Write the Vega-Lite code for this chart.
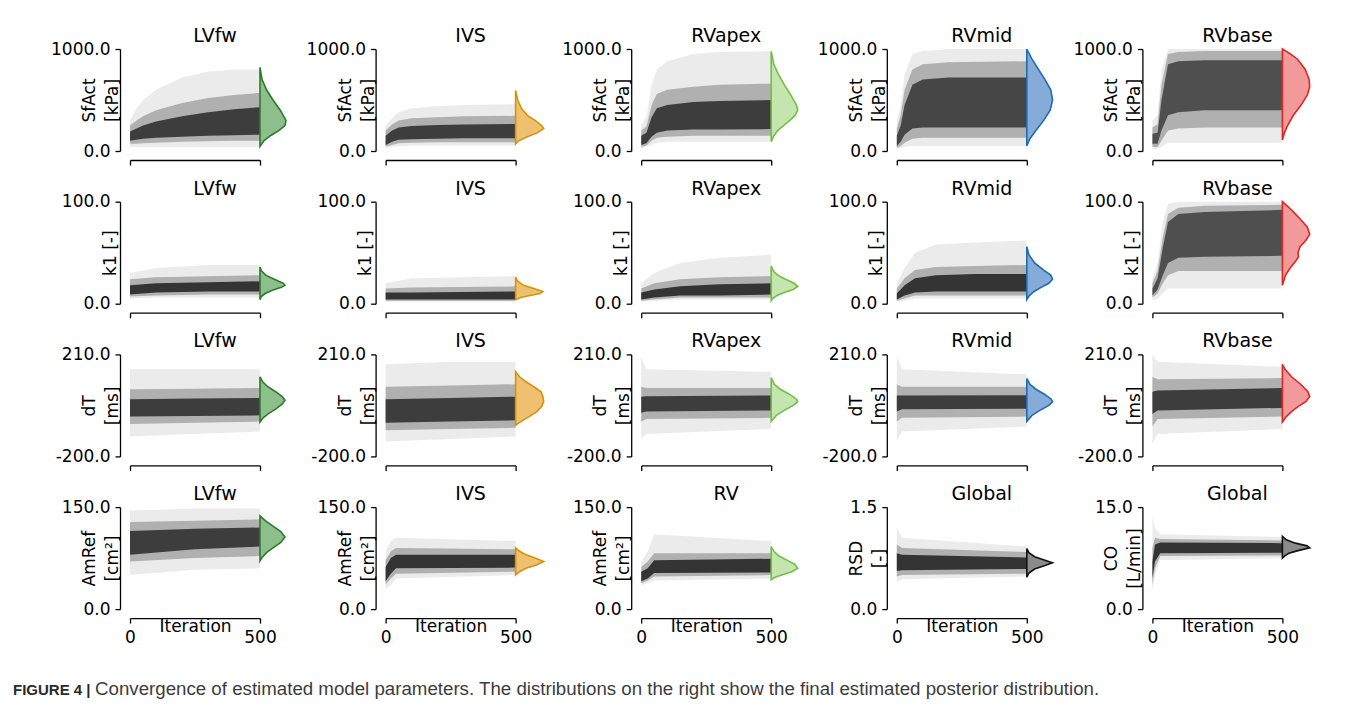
{
"$schema": "https://vega.github.io/schema/vega-lite/v6.json",
"padding": {"left": 13, "top": 27, "right": 5, "bottom": 5},
"background": "white",
"datasets": {
"band": [
{"p":1,"i":0,"lo":40,"c":70,"a":100,"b":190,"d":250,"hi":300},
{"p":1,"i":25,"lo":40,"c":70,"a":110,"b":220,"d":300,"hi":420},
{"p":1,"i":50,"lo":40,"c":75,"a":120,"b":250,"d":340,"hi":500},
{"p":1,"i":100,"lo":40,"c":80,"a":130,"b":290,"d":400,"hi":600},
{"p":1,"i":200,"lo":40,"c":90,"a":140,"b":340,"d":470,"hi":720},
{"p":1,"i":300,"lo":40,"c":95,"a":150,"b":380,"d":520,"hi":780},
{"p":1,"i":400,"lo":40,"c":100,"a":155,"b":410,"d":550,"hi":800},
{"p":1,"i":500,"lo":40,"c":100,"a":160,"b":430,"d":570,"hi":800},
{"p":2,"i":0,"lo":30,"c":45,"a":60,"b":150,"d":200,"hi":250},
{"p":2,"i":25,"lo":40,"c":60,"a":90,"b":200,"d":260,"hi":320},
{"p":2,"i":50,"lo":50,"c":75,"a":110,"b":230,"d":300,"hi":380},
{"p":2,"i":100,"lo":55,"c":80,"a":115,"b":245,"d":320,"hi":420},
{"p":2,"i":200,"lo":55,"c":85,"a":120,"b":255,"d":330,"hi":440},
{"p":2,"i":300,"lo":55,"c":85,"a":125,"b":260,"d":340,"hi":450},
{"p":2,"i":500,"lo":55,"c":85,"a":125,"b":265,"d":345,"hi":460},
{"p":3,"i":0,"lo":30,"c":40,"a":60,"b":150,"d":200,"hi":260},
{"p":3,"i":20,"lo":40,"c":55,"a":75,"b":180,"d":240,"hi":330},
{"p":3,"i":40,"lo":60,"c":100,"a":140,"b":330,"d":450,"hi":650},
{"p":3,"i":60,"lo":80,"c":130,"a":180,"b":420,"d":560,"hi":800},
{"p":3,"i":100,"lo":90,"c":140,"a":200,"b":450,"d":600,"hi":880},
{"p":3,"i":200,"lo":90,"c":150,"a":210,"b":480,"d":630,"hi":950},
{"p":3,"i":300,"lo":90,"c":150,"a":210,"b":490,"d":650,"hi":970},
{"p":3,"i":500,"lo":90,"c":150,"a":215,"b":500,"d":660,"hi":980},
{"p":4,"i":0,"lo":20,"c":30,"a":50,"b":150,"d":220,"hi":300},
{"p":4,"i":15,"lo":30,"c":50,"a":90,"b":250,"d":350,"hi":450},
{"p":4,"i":30,"lo":40,"c":80,"a":160,"b":450,"d":600,"hi":750},
{"p":4,"i":60,"lo":50,"c":120,"a":220,"b":650,"d":800,"hi":950},
{"p":4,"i":100,"lo":50,"c":130,"a":230,"b":700,"d":850,"hi":980},
{"p":4,"i":200,"lo":50,"c":130,"a":230,"b":720,"d":870,"hi":1000},
{"p":4,"i":500,"lo":50,"c":130,"a":230,"b":720,"d":880,"hi":1000},
{"p":5,"i":0,"lo":20,"c":40,"a":70,"b":170,"d":230,"hi":300},
{"p":5,"i":20,"lo":20,"c":40,"a":70,"b":180,"d":260,"hi":350},
{"p":5,"i":35,"lo":40,"c":100,"a":200,"b":500,"d":650,"hi":800},
{"p":5,"i":60,"lo":80,"c":200,"a":350,"b":850,"d":950,"hi":1000},
{"p":5,"i":100,"lo":80,"c":220,"a":380,"b":880,"d":970,"hi":1000},
{"p":5,"i":200,"lo":80,"c":230,"a":400,"b":890,"d":980,"hi":1000},
{"p":5,"i":500,"lo":80,"c":230,"a":400,"b":890,"d":980,"hi":1000},
{"p":6,"i":0,"lo":5,"c":7,"a":9,"b":18,"d":24,"hi":30},
{"p":6,"i":100,"lo":6,"c":8,"a":11,"b":20,"d":26,"hi":35},
{"p":6,"i":300,"lo":6,"c":9,"a":12,"b":21,"d":27,"hi":38},
{"p":6,"i":500,"lo":6,"c":9,"a":12,"b":22,"d":28,"hi":38},
{"p":7,"i":0,"lo":2,"c":3,"a":4,"b":11,"d":15,"hi":20},
{"p":7,"i":100,"lo":2,"c":3,"a":4,"b":11,"d":16,"hi":25},
{"p":7,"i":500,"lo":2,"c":3,"a":4,"b":12,"d":17,"hi":27},
{"p":8,"i":0,"lo":2,"c":3,"a":4,"b":11,"d":15,"hi":20},
{"p":8,"i":50,"lo":3,"c":4,"a":6,"b":14,"d":20,"hi":30},
{"p":8,"i":150,"lo":4,"c":6,"a":8,"b":17,"d":24,"hi":40},
{"p":8,"i":300,"lo":4,"c":6,"a":8,"b":19,"d":26,"hi":45},
{"p":8,"i":500,"lo":4,"c":6,"a":9,"b":20,"d":27,"hi":48},
{"p":9,"i":0,"lo":2,"c":3,"a":4,"b":10,"d":15,"hi":20},
{"p":9,"i":30,"lo":3,"c":5,"a":8,"b":18,"d":25,"hi":35},
{"p":9,"i":70,"lo":5,"c":8,"a":11,"b":25,"d":33,"hi":50},
{"p":9,"i":150,"lo":5,"c":8,"a":12,"b":28,"d":36,"hi":58},
{"p":9,"i":300,"lo":5,"c":8,"a":12,"b":29,"d":37,"hi":60},
{"p":9,"i":500,"lo":5,"c":8,"a":12,"b":29,"d":38,"hi":62},
{"p":10,"i":0,"lo":3,"c":6,"a":8,"b":15,"d":20,"hi":25},
{"p":10,"i":20,"lo":5,"c":10,"a":14,"b":25,"d":32,"hi":40},
{"p":10,"i":40,"lo":10,"c":20,"a":28,"b":55,"d":65,"hi":80},
{"p":10,"i":60,"lo":15,"c":28,"a":40,"b":80,"d":88,"hi":98},
{"p":10,"i":100,"lo":15,"c":32,"a":45,"b":88,"d":94,"hi":100},
{"p":10,"i":200,"lo":15,"c":32,"a":46,"b":90,"d":96,"hi":100},
{"p":10,"i":500,"lo":15,"c":32,"a":47,"b":92,"d":97,"hi":100},
{"p":11,"i":0,"lo":-120,"c":-70,"a":-40,"b":30,"d":70,"hi":150},
{"p":11,"i":250,"lo":-110,"c":-65,"a":-38,"b":33,"d":72,"hi":150},
{"p":11,"i":500,"lo":-100,"c":-60,"a":-35,"b":35,"d":75,"hi":150},
{"p":12,"i":0,"lo":-140,"c":-95,"a":-65,"b":30,"d":80,"hi":170},
{"p":12,"i":250,"lo":-130,"c":-90,"a":-60,"b":35,"d":85,"hi":180},
{"p":12,"i":500,"lo":-120,"c":-85,"a":-55,"b":40,"d":90,"hi":180},
{"p":13,"i":0,"lo":-130,"c":-60,"a":-25,"b":40,"d":80,"hi":200},
{"p":13,"i":20,"lo":-110,"c":-50,"a":-20,"b":42,"d":75,"hi":150},
{"p":13,"i":500,"lo":-90,"c":-45,"a":-15,"b":45,"d":75,"hi":140},
{"p":14,"i":0,"lo":-140,"c":-60,"a":-20,"b":45,"d":90,"hi":205},
{"p":14,"i":20,"lo":-100,"c":-45,"a":-10,"b":45,"d":80,"hi":150},
{"p":14,"i":500,"lo":-80,"c":-40,"a":-8,"b":46,"d":80,"hi":130},
{"p":15,"i":0,"lo":-150,"c":-80,"a":-30,"b":60,"d":120,"hi":210},
{"p":15,"i":20,"lo":-110,"c":-50,"a":-15,"b":65,"d":110,"hi":180},
{"p":15,"i":500,"lo":-90,"c":-40,"a":-5,"b":75,"d":115,"hi":160},
{"p":16,"i":0,"lo":50,"c":70,"a":80,"b":115,"d":128,"hi":145},
{"p":16,"i":250,"lo":58,"c":75,"a":88,"b":118,"d":130,"hi":148},
{"p":16,"i":500,"lo":60,"c":78,"a":92,"b":120,"d":132,"hi":148},
{"p":17,"i":0,"lo":30,"c":36,"a":41,"b":62,"d":72,"hi":85},
{"p":17,"i":20,"lo":35,"c":45,"a":52,"b":75,"d":85,"hi":100},
{"p":17,"i":40,"lo":45,"c":52,"a":60,"b":80,"d":90,"hi":105},
{"p":17,"i":500,"lo":50,"c":55,"a":61,"b":80,"d":88,"hi":100},
{"p":18,"i":0,"lo":35,"c":38,"a":41,"b":55,"d":62,"hi":70},
{"p":18,"i":25,"lo":38,"c":42,"a":45,"b":60,"d":70,"hi":85},
{"p":18,"i":50,"lo":42,"c":48,"a":53,"b":72,"d":82,"hi":110},
{"p":18,"i":500,"lo":45,"c":50,"a":54,"b":74,"d":82,"hi":100},
{"p":19,"i":0,"lo":0.40,"c":0.48,"a":0.56,"b":0.82,"d":0.95,"hi":1.20},
{"p":19,"i":20,"lo":0.44,"c":0.50,"a":0.57,"b":0.80,"d":0.90,"hi":1.05},
{"p":19,"i":500,"lo":0.48,"c":0.52,"a":0.59,"b":0.76,"d":0.84,"hi":0.92},
{"p":20,"i":0,"lo":2.5,"c":3.5,"a":4.5,"b":7,"d":9,"hi":13.5},
{"p":20,"i":10,"lo":5,"c":6,"a":7,"b":9.5,"d":10.5,"hi":12},
{"p":20,"i":30,"lo":7.2,"c":7.8,"a":8.2,"b":9.8,"d":10.3,"hi":11},
{"p":20,"i":500,"lo":7.5,"c":7.9,"a":8.3,"b":9.7,"d":10.1,"hi":10.6}
],
"vio": [
{"p":1,"v":820,"xv":500},{"p":1,"v":700,"xv":508},{"p":1,"v":600,"xv":525},{"p":1,"v":500,"xv":550},{"p":1,"v":400,"xv":578},{"p":1,"v":300,"xv":600},{"p":1,"v":250,"xv":596},{"p":1,"v":200,"xv":572},{"p":1,"v":150,"xv":540},{"p":1,"v":100,"xv":515},{"p":1,"v":45,"xv":500},
{"p":2,"v":594,"xv":500},{"p":2,"v":500,"xv":508},{"p":2,"v":420,"xv":522},{"p":2,"v":350,"xv":545},{"p":2,"v":300,"xv":575},{"p":2,"v":250,"xv":600},{"p":2,"v":220,"xv":608},{"p":2,"v":180,"xv":585},{"p":2,"v":140,"xv":545},{"p":2,"v":100,"xv":512},{"p":2,"v":69,"xv":500},
{"p":3,"v":977,"xv":500},{"p":3,"v":850,"xv":510},{"p":3,"v":750,"xv":528},{"p":3,"v":650,"xv":550},{"p":3,"v":550,"xv":575},{"p":3,"v":450,"xv":597},{"p":3,"v":400,"xv":602},{"p":3,"v":350,"xv":592},{"p":3,"v":300,"xv":572},{"p":3,"v":250,"xv":548},{"p":3,"v":200,"xv":525},{"p":3,"v":150,"xv":510},{"p":3,"v":92,"xv":500},
{"p":4,"v":1000,"xv":500},{"p":4,"v":900,"xv":520},{"p":4,"v":800,"xv":545},{"p":4,"v":700,"xv":570},{"p":4,"v":600,"xv":592},{"p":4,"v":500,"xv":599},{"p":4,"v":400,"xv":590},{"p":4,"v":300,"xv":565},{"p":4,"v":200,"xv":535},{"p":4,"v":120,"xv":512},{"p":4,"v":49,"xv":500},
{"p":5,"v":1000,"xv":500},{"p":5,"v":950,"xv":532},{"p":5,"v":900,"xv":558},{"p":5,"v":800,"xv":588},{"p":5,"v":700,"xv":603},{"p":5,"v":630,"xv":605},{"p":5,"v":550,"xv":596},{"p":5,"v":450,"xv":572},{"p":5,"v":350,"xv":542},{"p":5,"v":250,"xv":520},{"p":5,"v":180,"xv":508},{"p":5,"v":108,"xv":500},
{"p":6,"v":36,"xv":500},{"p":6,"v":32,"xv":506},{"p":6,"v":28,"xv":522},{"p":6,"v":24,"xv":555},{"p":6,"v":20,"xv":590},{"p":6,"v":18,"xv":596},{"p":6,"v":16,"xv":582},{"p":6,"v":13,"xv":545},{"p":6,"v":10,"xv":520},{"p":6,"v":7,"xv":505},{"p":6,"v":4,"xv":500},
{"p":7,"v":26,"xv":500},{"p":7,"v":22,"xv":508},{"p":7,"v":18,"xv":530},{"p":7,"v":15,"xv":570},{"p":7,"v":12,"xv":605},{"p":7,"v":10,"xv":595},{"p":7,"v":8,"xv":555},{"p":7,"v":6,"xv":520},{"p":7,"v":4,"xv":500},
{"p":8,"v":37,"xv":500},{"p":8,"v":32,"xv":508},{"p":8,"v":28,"xv":525},{"p":8,"v":24,"xv":555},{"p":8,"v":20,"xv":588},{"p":8,"v":17,"xv":602},{"p":8,"v":14,"xv":585},{"p":8,"v":11,"xv":550},{"p":8,"v":8,"xv":522},{"p":8,"v":5,"xv":505},{"p":8,"v":3,"xv":500},
{"p":9,"v":56,"xv":500},{"p":9,"v":48,"xv":508},{"p":9,"v":40,"xv":530},{"p":9,"v":33,"xv":565},{"p":9,"v":28,"xv":592},{"p":9,"v":24,"xv":599},{"p":9,"v":20,"xv":585},{"p":9,"v":16,"xv":555},{"p":9,"v":12,"xv":528},{"p":9,"v":8,"xv":510},{"p":9,"v":4,"xv":500},
{"p":10,"v":100,"xv":500},{"p":10,"v":95,"xv":522},{"p":10,"v":90,"xv":542},{"p":10,"v":82,"xv":572},{"p":10,"v":75,"xv":596},{"p":10,"v":68,"xv":605},{"p":10,"v":62,"xv":590},{"p":10,"v":56,"xv":568},{"p":10,"v":50,"xv":560},{"p":10,"v":46,"xv":562},{"p":10,"v":42,"xv":552},{"p":10,"v":35,"xv":530},{"p":10,"v":28,"xv":512},{"p":10,"v":18,"xv":500},
{"p":11,"v":120,"xv":500},{"p":11,"v":100,"xv":510},{"p":11,"v":80,"xv":530},{"p":11,"v":60,"xv":560},{"p":11,"v":40,"xv":586},{"p":11,"v":26,"xv":596},{"p":11,"v":10,"xv":585},{"p":11,"v":-10,"xv":560},{"p":11,"v":-30,"xv":530},{"p":11,"v":-45,"xv":512},{"p":11,"v":-62,"xv":500},
{"p":12,"v":140,"xv":500},{"p":12,"v":120,"xv":515},{"p":12,"v":100,"xv":540},{"p":12,"v":80,"xv":570},{"p":12,"v":60,"xv":598},{"p":12,"v":40,"xv":605},{"p":12,"v":20,"xv":608},{"p":12,"v":0,"xv":600},{"p":12,"v":-20,"xv":582},{"p":12,"v":-40,"xv":552},{"p":12,"v":-60,"xv":520},{"p":12,"v":-75,"xv":500},
{"p":13,"v":116,"xv":500},{"p":13,"v":90,"xv":512},{"p":13,"v":70,"xv":535},{"p":13,"v":50,"xv":570},{"p":13,"v":30,"xv":598},{"p":13,"v":20,"xv":602},{"p":13,"v":5,"xv":585},{"p":13,"v":-15,"xv":550},{"p":13,"v":-35,"xv":520},{"p":13,"v":-59,"xv":500},
{"p":14,"v":113,"xv":500},{"p":14,"v":90,"xv":512},{"p":14,"v":70,"xv":535},{"p":14,"v":50,"xv":568},{"p":14,"v":30,"xv":594},{"p":14,"v":19,"xv":599},{"p":14,"v":5,"xv":585},{"p":14,"v":-15,"xv":550},{"p":14,"v":-35,"xv":520},{"p":14,"v":-59,"xv":500},
{"p":15,"v":170,"xv":500},{"p":15,"v":150,"xv":510},{"p":15,"v":120,"xv":535},{"p":15,"v":90,"xv":570},{"p":15,"v":60,"xv":598},{"p":15,"v":40,"xv":605},{"p":15,"v":20,"xv":590},{"p":15,"v":0,"xv":560},{"p":15,"v":-20,"xv":535},{"p":15,"v":-40,"xv":515},{"p":15,"v":-62,"xv":500},
{"p":16,"v":137,"xv":500},{"p":16,"v":130,"xv":520},{"p":16,"v":122,"xv":550},{"p":16,"v":114,"xv":580},{"p":16,"v":106,"xv":596},{"p":16,"v":98,"xv":580},{"p":16,"v":90,"xv":550},{"p":16,"v":83,"xv":525},{"p":16,"v":76,"xv":508},{"p":16,"v":71,"xv":500},
{"p":17,"v":90,"xv":500},{"p":17,"v":85,"xv":515},{"p":17,"v":80,"xv":540},{"p":17,"v":75,"xv":575},{"p":17,"v":70,"xv":608},{"p":17,"v":65,"xv":580},{"p":17,"v":60,"xv":540},{"p":17,"v":55,"xv":515},{"p":17,"v":50,"xv":500},
{"p":18,"v":92,"xv":500},{"p":18,"v":85,"xv":510},{"p":18,"v":78,"xv":530},{"p":18,"v":72,"xv":560},{"p":18,"v":66,"xv":590},{"p":18,"v":60,"xv":602},{"p":18,"v":55,"xv":580},{"p":18,"v":50,"xv":540},{"p":18,"v":46,"xv":510},{"p":18,"v":43,"xv":500},
{"p":19,"v":0.89,"xv":500},{"p":19,"v":0.83,"xv":508},{"p":19,"v":0.77,"xv":530},{"p":19,"v":0.72,"xv":570},{"p":19,"v":0.68,"xv":599},{"p":19,"v":0.64,"xv":570},{"p":19,"v":0.59,"xv":530},{"p":19,"v":0.53,"xv":508},{"p":19,"v":0.47,"xv":500},
{"p":20,"v":10.7,"xv":500},{"p":20,"v":10.2,"xv":515},{"p":20,"v":9.7,"xv":550},{"p":20,"v":9.3,"xv":595},{"p":20,"v":9.0,"xv":605},{"p":20,"v":8.6,"xv":560},{"p":20,"v":8.2,"xv":525},{"p":20,"v":7.8,"xv":508},{"p":20,"v":7.5,"xv":500}
]
},
"title": {"text": "FIGURE 4 |", "orient": "bottom", "anchor": "start", "frame": "bounds", "font": "Liberation Sans", "fontSize": 15, "fontWeight": "bold", "color": "#2a2a2a", "dx": -37.5, "dy": -4, "offset": 0, "baseline": "alphabetic"},
"vconcat": [
{
"title": {"text": "Convergence of estimated model parameters. The distributions on the right show the final estimated posterior distribution.", "orient": "bottom", "anchor": "start", "frame": "bounds", "font": "Liberation Sans", "fontSize": 18.7, "fontWeight": "normal", "color": "#3c3c3c", "dx": 44.5, "dy": 0, "offset": 50, "baseline": "alphabetic"},
"columns": 5,
"bounds": "flush",
"spacing": {"row": 50.7, "column": 125.6},
"concat": [
{"width":130,"height":102,"title":"LVfw","layer":[
{"data":{"name":"band"},"transform":[{"filter":"datum.p==1"}],"mark":{"type":"area","color":"#000","opacity":0.08},"encoding":{"x":{"field":"i","type":"quantitative","scale":{"domain":[0,500],"nice":false},"axis":{"values":[0,500],"labels":false,"title":null}},"y":{"field":"lo","type":"quantitative","scale":{"domain":[0,1000],"nice":false},"axis":{"values":[0,1000],"format":".1f","title":["SfAct","[kPa]"],"titleX":-21.5}},"y2":{"field":"hi"}}},
{"data":{"name":"band"},"transform":[{"filter":"datum.p==1"}],"mark":{"type":"area","color":"#000","opacity":0.25},"encoding":{"x":{"field":"i","type":"quantitative","scale":{"domain":[0,500],"nice":false}},"y":{"field":"c","type":"quantitative","scale":{"domain":[0,1000],"nice":false}},"y2":{"field":"d"}}},
{"data":{"name":"band"},"transform":[{"filter":"datum.p==1"}],"mark":{"type":"area","color":"#000","opacity":0.65},"encoding":{"x":{"field":"i","type":"quantitative","scale":{"domain":[0,500],"nice":false}},"y":{"field":"a","type":"quantitative","scale":{"domain":[0,1000],"nice":false}},"y2":{"field":"b"}}},
{"data":{"name":"vio"},"transform":[{"filter":"datum.p==1"}],"mark":{"type":"area","orient":"horizontal","fill":"#8cbf8c","fillOpacity":1,"stroke":"#2d7a2d","strokeWidth":1.6},"encoding":{"x":{"field":"xv","type":"quantitative","scale":{"domain":[0,500],"nice":false}},"x2":{"datum":500},"y":{"field":"v","type":"quantitative","scale":{"domain":[0,1000],"nice":false}}}}
]},
{"width":130,"height":102,"title":"IVS","layer":[
{"data":{"name":"band"},"transform":[{"filter":"datum.p==2"}],"mark":{"type":"area","color":"#000","opacity":0.08},"encoding":{"x":{"field":"i","type":"quantitative","scale":{"domain":[0,500],"nice":false},"axis":{"values":[0,500],"labels":false,"title":null}},"y":{"field":"lo","type":"quantitative","scale":{"domain":[0,1000],"nice":false},"axis":{"values":[0,1000],"format":".1f","title":["SfAct","[kPa]"],"titleX":-21.5}},"y2":{"field":"hi"}}},
{"data":{"name":"band"},"transform":[{"filter":"datum.p==2"}],"mark":{"type":"area","color":"#000","opacity":0.25},"encoding":{"x":{"field":"i","type":"quantitative","scale":{"domain":[0,500],"nice":false}},"y":{"field":"c","type":"quantitative","scale":{"domain":[0,1000],"nice":false}},"y2":{"field":"d"}}},
{"data":{"name":"band"},"transform":[{"filter":"datum.p==2"}],"mark":{"type":"area","color":"#000","opacity":0.65},"encoding":{"x":{"field":"i","type":"quantitative","scale":{"domain":[0,500],"nice":false}},"y":{"field":"a","type":"quantitative","scale":{"domain":[0,1000],"nice":false}},"y2":{"field":"b"}}},
{"data":{"name":"vio"},"transform":[{"filter":"datum.p==2"}],"mark":{"type":"area","orient":"horizontal","fill":"#eec06f","fillOpacity":1,"stroke":"#d4920f","strokeWidth":1.6},"encoding":{"x":{"field":"xv","type":"quantitative","scale":{"domain":[0,500],"nice":false}},"x2":{"datum":500},"y":{"field":"v","type":"quantitative","scale":{"domain":[0,1000],"nice":false}}}}
]},
{"width":130,"height":102,"title":"RVapex","layer":[
{"data":{"name":"band"},"transform":[{"filter":"datum.p==3"}],"mark":{"type":"area","color":"#000","opacity":0.08},"encoding":{"x":{"field":"i","type":"quantitative","scale":{"domain":[0,500],"nice":false},"axis":{"values":[0,500],"labels":false,"title":null}},"y":{"field":"lo","type":"quantitative","scale":{"domain":[0,1000],"nice":false},"axis":{"values":[0,1000],"format":".1f","title":["SfAct","[kPa]"],"titleX":-21.5}},"y2":{"field":"hi"}}},
{"data":{"name":"band"},"transform":[{"filter":"datum.p==3"}],"mark":{"type":"area","color":"#000","opacity":0.25},"encoding":{"x":{"field":"i","type":"quantitative","scale":{"domain":[0,500],"nice":false}},"y":{"field":"c","type":"quantitative","scale":{"domain":[0,1000],"nice":false}},"y2":{"field":"d"}}},
{"data":{"name":"band"},"transform":[{"filter":"datum.p==3"}],"mark":{"type":"area","color":"#000","opacity":0.65},"encoding":{"x":{"field":"i","type":"quantitative","scale":{"domain":[0,500],"nice":false}},"y":{"field":"a","type":"quantitative","scale":{"domain":[0,1000],"nice":false}},"y2":{"field":"b"}}},
{"data":{"name":"vio"},"transform":[{"filter":"datum.p==3"}],"mark":{"type":"area","orient":"horizontal","fill":"#c4e5ae","fillOpacity":1,"stroke":"#72bf45","strokeWidth":1.6},"encoding":{"x":{"field":"xv","type":"quantitative","scale":{"domain":[0,500],"nice":false}},"x2":{"datum":500},"y":{"field":"v","type":"quantitative","scale":{"domain":[0,1000],"nice":false}}}}
]},
{"width":130,"height":102,"title":"RVmid","layer":[
{"data":{"name":"band"},"transform":[{"filter":"datum.p==4"}],"mark":{"type":"area","color":"#000","opacity":0.08},"encoding":{"x":{"field":"i","type":"quantitative","scale":{"domain":[0,500],"nice":false},"axis":{"values":[0,500],"labels":false,"title":null}},"y":{"field":"lo","type":"quantitative","scale":{"domain":[0,1000],"nice":false},"axis":{"values":[0,1000],"format":".1f","title":["SfAct","[kPa]"],"titleX":-21.5}},"y2":{"field":"hi"}}},
{"data":{"name":"band"},"transform":[{"filter":"datum.p==4"}],"mark":{"type":"area","color":"#000","opacity":0.25},"encoding":{"x":{"field":"i","type":"quantitative","scale":{"domain":[0,500],"nice":false}},"y":{"field":"c","type":"quantitative","scale":{"domain":[0,1000],"nice":false}},"y2":{"field":"d"}}},
{"data":{"name":"band"},"transform":[{"filter":"datum.p==4"}],"mark":{"type":"area","color":"#000","opacity":0.6},"encoding":{"x":{"field":"i","type":"quantitative","scale":{"domain":[0,500],"nice":false}},"y":{"field":"a","type":"quantitative","scale":{"domain":[0,1000],"nice":false}},"y2":{"field":"b"}}},
{"data":{"name":"vio"},"transform":[{"filter":"datum.p==4"}],"mark":{"type":"area","orient":"horizontal","fill":"#85acd9","fillOpacity":1,"stroke":"#1f6bb0","strokeWidth":1.6},"encoding":{"x":{"field":"xv","type":"quantitative","scale":{"domain":[0,500],"nice":false}},"x2":{"datum":500},"y":{"field":"v","type":"quantitative","scale":{"domain":[0,1000],"nice":false}}}}
]},
{"width":130,"height":102,"title":"RVbase","layer":[
{"data":{"name":"band"},"transform":[{"filter":"datum.p==5"}],"mark":{"type":"area","color":"#000","opacity":0.08},"encoding":{"x":{"field":"i","type":"quantitative","scale":{"domain":[0,500],"nice":false},"axis":{"values":[0,500],"labels":false,"title":null}},"y":{"field":"lo","type":"quantitative","scale":{"domain":[0,1000],"nice":false},"axis":{"values":[0,1000],"format":".1f","title":["SfAct","[kPa]"],"titleX":-21.5}},"y2":{"field":"hi"}}},
{"data":{"name":"band"},"transform":[{"filter":"datum.p==5"}],"mark":{"type":"area","color":"#000","opacity":0.25},"encoding":{"x":{"field":"i","type":"quantitative","scale":{"domain":[0,500],"nice":false}},"y":{"field":"c","type":"quantitative","scale":{"domain":[0,1000],"nice":false}},"y2":{"field":"d"}}},
{"data":{"name":"band"},"transform":[{"filter":"datum.p==5"}],"mark":{"type":"area","color":"#000","opacity":0.55},"encoding":{"x":{"field":"i","type":"quantitative","scale":{"domain":[0,500],"nice":false}},"y":{"field":"a","type":"quantitative","scale":{"domain":[0,1000],"nice":false}},"y2":{"field":"b"}}},
{"data":{"name":"vio"},"transform":[{"filter":"datum.p==5"}],"mark":{"type":"area","orient":"horizontal","fill":"#f29a9a","fillOpacity":1,"stroke":"#e02525","strokeWidth":1.6},"encoding":{"x":{"field":"xv","type":"quantitative","scale":{"domain":[0,500],"nice":false}},"x2":{"datum":500},"y":{"field":"v","type":"quantitative","scale":{"domain":[0,1000],"nice":false}}}}
]},
{"width":130,"height":102,"title":"LVfw","layer":[
{"data":{"name":"band"},"transform":[{"filter":"datum.p==6"}],"mark":{"type":"area","color":"#000","opacity":0.08},"encoding":{"x":{"field":"i","type":"quantitative","scale":{"domain":[0,500],"nice":false},"axis":{"values":[0,500],"labels":false,"title":null}},"y":{"field":"lo","type":"quantitative","scale":{"domain":[0,100],"nice":false},"axis":{"values":[0,100],"format":".1f","title":"k1 [-]"}},"y2":{"field":"hi"}}},
{"data":{"name":"band"},"transform":[{"filter":"datum.p==6"}],"mark":{"type":"area","color":"#000","opacity":0.25},"encoding":{"x":{"field":"i","type":"quantitative","scale":{"domain":[0,500],"nice":false}},"y":{"field":"c","type":"quantitative","scale":{"domain":[0,100],"nice":false}},"y2":{"field":"d"}}},
{"data":{"name":"band"},"transform":[{"filter":"datum.p==6"}],"mark":{"type":"area","color":"#000","opacity":0.7},"encoding":{"x":{"field":"i","type":"quantitative","scale":{"domain":[0,500],"nice":false}},"y":{"field":"a","type":"quantitative","scale":{"domain":[0,100],"nice":false}},"y2":{"field":"b"}}},
{"data":{"name":"vio"},"transform":[{"filter":"datum.p==6"}],"mark":{"type":"area","orient":"horizontal","fill":"#8cbf8c","fillOpacity":1,"stroke":"#2d7a2d","strokeWidth":1.6},"encoding":{"x":{"field":"xv","type":"quantitative","scale":{"domain":[0,500],"nice":false}},"x2":{"datum":500},"y":{"field":"v","type":"quantitative","scale":{"domain":[0,100],"nice":false}}}}
]},
{"width":130,"height":102,"title":"IVS","layer":[
{"data":{"name":"band"},"transform":[{"filter":"datum.p==7"}],"mark":{"type":"area","color":"#000","opacity":0.08},"encoding":{"x":{"field":"i","type":"quantitative","scale":{"domain":[0,500],"nice":false},"axis":{"values":[0,500],"labels":false,"title":null}},"y":{"field":"lo","type":"quantitative","scale":{"domain":[0,100],"nice":false},"axis":{"values":[0,100],"format":".1f","title":"k1 [-]"}},"y2":{"field":"hi"}}},
{"data":{"name":"band"},"transform":[{"filter":"datum.p==7"}],"mark":{"type":"area","color":"#000","opacity":0.25},"encoding":{"x":{"field":"i","type":"quantitative","scale":{"domain":[0,500],"nice":false}},"y":{"field":"c","type":"quantitative","scale":{"domain":[0,100],"nice":false}},"y2":{"field":"d"}}},
{"data":{"name":"band"},"transform":[{"filter":"datum.p==7"}],"mark":{"type":"area","color":"#000","opacity":0.7},"encoding":{"x":{"field":"i","type":"quantitative","scale":{"domain":[0,500],"nice":false}},"y":{"field":"a","type":"quantitative","scale":{"domain":[0,100],"nice":false}},"y2":{"field":"b"}}},
{"data":{"name":"vio"},"transform":[{"filter":"datum.p==7"}],"mark":{"type":"area","orient":"horizontal","fill":"#eec06f","fillOpacity":1,"stroke":"#d4920f","strokeWidth":1.6},"encoding":{"x":{"field":"xv","type":"quantitative","scale":{"domain":[0,500],"nice":false}},"x2":{"datum":500},"y":{"field":"v","type":"quantitative","scale":{"domain":[0,100],"nice":false}}}}
]},
{"width":130,"height":102,"title":"RVapex","layer":[
{"data":{"name":"band"},"transform":[{"filter":"datum.p==8"}],"mark":{"type":"area","color":"#000","opacity":0.08},"encoding":{"x":{"field":"i","type":"quantitative","scale":{"domain":[0,500],"nice":false},"axis":{"values":[0,500],"labels":false,"title":null}},"y":{"field":"lo","type":"quantitative","scale":{"domain":[0,100],"nice":false},"axis":{"values":[0,100],"format":".1f","title":"k1 [-]"}},"y2":{"field":"hi"}}},
{"data":{"name":"band"},"transform":[{"filter":"datum.p==8"}],"mark":{"type":"area","color":"#000","opacity":0.25},"encoding":{"x":{"field":"i","type":"quantitative","scale":{"domain":[0,500],"nice":false}},"y":{"field":"c","type":"quantitative","scale":{"domain":[0,100],"nice":false}},"y2":{"field":"d"}}},
{"data":{"name":"band"},"transform":[{"filter":"datum.p==8"}],"mark":{"type":"area","color":"#000","opacity":0.7},"encoding":{"x":{"field":"i","type":"quantitative","scale":{"domain":[0,500],"nice":false}},"y":{"field":"a","type":"quantitative","scale":{"domain":[0,100],"nice":false}},"y2":{"field":"b"}}},
{"data":{"name":"vio"},"transform":[{"filter":"datum.p==8"}],"mark":{"type":"area","orient":"horizontal","fill":"#c4e5ae","fillOpacity":1,"stroke":"#72bf45","strokeWidth":1.6},"encoding":{"x":{"field":"xv","type":"quantitative","scale":{"domain":[0,500],"nice":false}},"x2":{"datum":500},"y":{"field":"v","type":"quantitative","scale":{"domain":[0,100],"nice":false}}}}
]},
{"width":130,"height":102,"title":"RVmid","layer":[
{"data":{"name":"band"},"transform":[{"filter":"datum.p==9"}],"mark":{"type":"area","color":"#000","opacity":0.08},"encoding":{"x":{"field":"i","type":"quantitative","scale":{"domain":[0,500],"nice":false},"axis":{"values":[0,500],"labels":false,"title":null}},"y":{"field":"lo","type":"quantitative","scale":{"domain":[0,100],"nice":false},"axis":{"values":[0,100],"format":".1f","title":"k1 [-]"}},"y2":{"field":"hi"}}},
{"data":{"name":"band"},"transform":[{"filter":"datum.p==9"}],"mark":{"type":"area","color":"#000","opacity":0.25},"encoding":{"x":{"field":"i","type":"quantitative","scale":{"domain":[0,500],"nice":false}},"y":{"field":"c","type":"quantitative","scale":{"domain":[0,100],"nice":false}},"y2":{"field":"d"}}},
{"data":{"name":"band"},"transform":[{"filter":"datum.p==9"}],"mark":{"type":"area","color":"#000","opacity":0.7},"encoding":{"x":{"field":"i","type":"quantitative","scale":{"domain":[0,500],"nice":false}},"y":{"field":"a","type":"quantitative","scale":{"domain":[0,100],"nice":false}},"y2":{"field":"b"}}},
{"data":{"name":"vio"},"transform":[{"filter":"datum.p==9"}],"mark":{"type":"area","orient":"horizontal","fill":"#85acd9","fillOpacity":1,"stroke":"#1f6bb0","strokeWidth":1.6},"encoding":{"x":{"field":"xv","type":"quantitative","scale":{"domain":[0,500],"nice":false}},"x2":{"datum":500},"y":{"field":"v","type":"quantitative","scale":{"domain":[0,100],"nice":false}}}}
]},
{"width":130,"height":102,"title":"RVbase","layer":[
{"data":{"name":"band"},"transform":[{"filter":"datum.p==10"}],"mark":{"type":"area","color":"#000","opacity":0.08},"encoding":{"x":{"field":"i","type":"quantitative","scale":{"domain":[0,500],"nice":false},"axis":{"values":[0,500],"labels":false,"title":null}},"y":{"field":"lo","type":"quantitative","scale":{"domain":[0,100],"nice":false},"axis":{"values":[0,100],"format":".1f","title":"k1 [-]"}},"y2":{"field":"hi"}}},
{"data":{"name":"band"},"transform":[{"filter":"datum.p==10"}],"mark":{"type":"area","color":"#000","opacity":0.25},"encoding":{"x":{"field":"i","type":"quantitative","scale":{"domain":[0,500],"nice":false}},"y":{"field":"c","type":"quantitative","scale":{"domain":[0,100],"nice":false}},"y2":{"field":"d"}}},
{"data":{"name":"band"},"transform":[{"filter":"datum.p==10"}],"mark":{"type":"area","color":"#000","opacity":0.55},"encoding":{"x":{"field":"i","type":"quantitative","scale":{"domain":[0,500],"nice":false}},"y":{"field":"a","type":"quantitative","scale":{"domain":[0,100],"nice":false}},"y2":{"field":"b"}}},
{"data":{"name":"vio"},"transform":[{"filter":"datum.p==10"}],"mark":{"type":"area","orient":"horizontal","fill":"#f29a9a","fillOpacity":1,"stroke":"#e02525","strokeWidth":1.6},"encoding":{"x":{"field":"xv","type":"quantitative","scale":{"domain":[0,500],"nice":false}},"x2":{"datum":500},"y":{"field":"v","type":"quantitative","scale":{"domain":[0,100],"nice":false}}}}
]},
{"width":130,"height":102,"title":"LVfw","layer":[
{"data":{"name":"band"},"transform":[{"filter":"datum.p==11"}],"mark":{"type":"area","color":"#000","opacity":0.08},"encoding":{"x":{"field":"i","type":"quantitative","scale":{"domain":[0,500],"nice":false},"axis":{"values":[0,500],"labels":false,"title":null}},"y":{"field":"lo","type":"quantitative","scale":{"domain":[-200,210],"nice":false},"axis":{"values":[-200,210],"format":".1f","labelExpr":"replace(datum.label,'−','-')","title":["dT","[ms]"],"titleX":-21.5}},"y2":{"field":"hi"}}},
{"data":{"name":"band"},"transform":[{"filter":"datum.p==11"}],"mark":{"type":"area","color":"#000","opacity":0.25},"encoding":{"x":{"field":"i","type":"quantitative","scale":{"domain":[0,500],"nice":false}},"y":{"field":"c","type":"quantitative","scale":{"domain":[-200,210],"nice":false}},"y2":{"field":"d"}}},
{"data":{"name":"band"},"transform":[{"filter":"datum.p==11"}],"mark":{"type":"area","color":"#000","opacity":0.65},"encoding":{"x":{"field":"i","type":"quantitative","scale":{"domain":[0,500],"nice":false}},"y":{"field":"a","type":"quantitative","scale":{"domain":[-200,210],"nice":false}},"y2":{"field":"b"}}},
{"data":{"name":"vio"},"transform":[{"filter":"datum.p==11"}],"mark":{"type":"area","orient":"horizontal","fill":"#8cbf8c","fillOpacity":1,"stroke":"#2d7a2d","strokeWidth":1.6},"encoding":{"x":{"field":"xv","type":"quantitative","scale":{"domain":[0,500],"nice":false}},"x2":{"datum":500},"y":{"field":"v","type":"quantitative","scale":{"domain":[-200,210],"nice":false}}}}
]},
{"width":130,"height":102,"title":"IVS","layer":[
{"data":{"name":"band"},"transform":[{"filter":"datum.p==12"}],"mark":{"type":"area","color":"#000","opacity":0.08},"encoding":{"x":{"field":"i","type":"quantitative","scale":{"domain":[0,500],"nice":false},"axis":{"values":[0,500],"labels":false,"title":null}},"y":{"field":"lo","type":"quantitative","scale":{"domain":[-200,210],"nice":false},"axis":{"values":[-200,210],"format":".1f","labelExpr":"replace(datum.label,'−','-')","title":["dT","[ms]"],"titleX":-21.5}},"y2":{"field":"hi"}}},
{"data":{"name":"band"},"transform":[{"filter":"datum.p==12"}],"mark":{"type":"area","color":"#000","opacity":0.25},"encoding":{"x":{"field":"i","type":"quantitative","scale":{"domain":[0,500],"nice":false}},"y":{"field":"c","type":"quantitative","scale":{"domain":[-200,210],"nice":false}},"y2":{"field":"d"}}},
{"data":{"name":"band"},"transform":[{"filter":"datum.p==12"}],"mark":{"type":"area","color":"#000","opacity":0.65},"encoding":{"x":{"field":"i","type":"quantitative","scale":{"domain":[0,500],"nice":false}},"y":{"field":"a","type":"quantitative","scale":{"domain":[-200,210],"nice":false}},"y2":{"field":"b"}}},
{"data":{"name":"vio"},"transform":[{"filter":"datum.p==12"}],"mark":{"type":"area","orient":"horizontal","fill":"#eec06f","fillOpacity":1,"stroke":"#d4920f","strokeWidth":1.6},"encoding":{"x":{"field":"xv","type":"quantitative","scale":{"domain":[0,500],"nice":false}},"x2":{"datum":500},"y":{"field":"v","type":"quantitative","scale":{"domain":[-200,210],"nice":false}}}}
]},
{"width":130,"height":102,"title":"RVapex","layer":[
{"data":{"name":"band"},"transform":[{"filter":"datum.p==13"}],"mark":{"type":"area","color":"#000","opacity":0.08},"encoding":{"x":{"field":"i","type":"quantitative","scale":{"domain":[0,500],"nice":false},"axis":{"values":[0,500],"labels":false,"title":null}},"y":{"field":"lo","type":"quantitative","scale":{"domain":[-200,210],"nice":false},"axis":{"values":[-200,210],"format":".1f","labelExpr":"replace(datum.label,'−','-')","title":["dT","[ms]"],"titleX":-21.5}},"y2":{"field":"hi"}}},
{"data":{"name":"band"},"transform":[{"filter":"datum.p==13"}],"mark":{"type":"area","color":"#000","opacity":0.25},"encoding":{"x":{"field":"i","type":"quantitative","scale":{"domain":[0,500],"nice":false}},"y":{"field":"c","type":"quantitative","scale":{"domain":[-200,210],"nice":false}},"y2":{"field":"d"}}},
{"data":{"name":"band"},"transform":[{"filter":"datum.p==13"}],"mark":{"type":"area","color":"#000","opacity":0.65},"encoding":{"x":{"field":"i","type":"quantitative","scale":{"domain":[0,500],"nice":false}},"y":{"field":"a","type":"quantitative","scale":{"domain":[-200,210],"nice":false}},"y2":{"field":"b"}}},
{"data":{"name":"vio"},"transform":[{"filter":"datum.p==13"}],"mark":{"type":"area","orient":"horizontal","fill":"#c4e5ae","fillOpacity":1,"stroke":"#72bf45","strokeWidth":1.6},"encoding":{"x":{"field":"xv","type":"quantitative","scale":{"domain":[0,500],"nice":false}},"x2":{"datum":500},"y":{"field":"v","type":"quantitative","scale":{"domain":[-200,210],"nice":false}}}}
]},
{"width":130,"height":102,"title":"RVmid","layer":[
{"data":{"name":"band"},"transform":[{"filter":"datum.p==14"}],"mark":{"type":"area","color":"#000","opacity":0.08},"encoding":{"x":{"field":"i","type":"quantitative","scale":{"domain":[0,500],"nice":false},"axis":{"values":[0,500],"labels":false,"title":null}},"y":{"field":"lo","type":"quantitative","scale":{"domain":[-200,210],"nice":false},"axis":{"values":[-200,210],"format":".1f","labelExpr":"replace(datum.label,'−','-')","title":["dT","[ms]"],"titleX":-21.5}},"y2":{"field":"hi"}}},
{"data":{"name":"band"},"transform":[{"filter":"datum.p==14"}],"mark":{"type":"area","color":"#000","opacity":0.25},"encoding":{"x":{"field":"i","type":"quantitative","scale":{"domain":[0,500],"nice":false}},"y":{"field":"c","type":"quantitative","scale":{"domain":[-200,210],"nice":false}},"y2":{"field":"d"}}},
{"data":{"name":"band"},"transform":[{"filter":"datum.p==14"}],"mark":{"type":"area","color":"#000","opacity":0.65},"encoding":{"x":{"field":"i","type":"quantitative","scale":{"domain":[0,500],"nice":false}},"y":{"field":"a","type":"quantitative","scale":{"domain":[-200,210],"nice":false}},"y2":{"field":"b"}}},
{"data":{"name":"vio"},"transform":[{"filter":"datum.p==14"}],"mark":{"type":"area","orient":"horizontal","fill":"#85acd9","fillOpacity":1,"stroke":"#1f6bb0","strokeWidth":1.6},"encoding":{"x":{"field":"xv","type":"quantitative","scale":{"domain":[0,500],"nice":false}},"x2":{"datum":500},"y":{"field":"v","type":"quantitative","scale":{"domain":[-200,210],"nice":false}}}}
]},
{"width":130,"height":102,"title":"RVbase","layer":[
{"data":{"name":"band"},"transform":[{"filter":"datum.p==15"}],"mark":{"type":"area","color":"#000","opacity":0.08},"encoding":{"x":{"field":"i","type":"quantitative","scale":{"domain":[0,500],"nice":false},"axis":{"values":[0,500],"labels":false,"title":null}},"y":{"field":"lo","type":"quantitative","scale":{"domain":[-200,210],"nice":false},"axis":{"values":[-200,210],"format":".1f","labelExpr":"replace(datum.label,'−','-')","title":["dT","[ms]"],"titleX":-21.5}},"y2":{"field":"hi"}}},
{"data":{"name":"band"},"transform":[{"filter":"datum.p==15"}],"mark":{"type":"area","color":"#000","opacity":0.25},"encoding":{"x":{"field":"i","type":"quantitative","scale":{"domain":[0,500],"nice":false}},"y":{"field":"c","type":"quantitative","scale":{"domain":[-200,210],"nice":false}},"y2":{"field":"d"}}},
{"data":{"name":"band"},"transform":[{"filter":"datum.p==15"}],"mark":{"type":"area","color":"#000","opacity":0.65},"encoding":{"x":{"field":"i","type":"quantitative","scale":{"domain":[0,500],"nice":false}},"y":{"field":"a","type":"quantitative","scale":{"domain":[-200,210],"nice":false}},"y2":{"field":"b"}}},
{"data":{"name":"vio"},"transform":[{"filter":"datum.p==15"}],"mark":{"type":"area","orient":"horizontal","fill":"#f29a9a","fillOpacity":1,"stroke":"#e02525","strokeWidth":1.6},"encoding":{"x":{"field":"xv","type":"quantitative","scale":{"domain":[0,500],"nice":false}},"x2":{"datum":500},"y":{"field":"v","type":"quantitative","scale":{"domain":[-200,210],"nice":false}}}}
]},
{"width":130,"height":102,"title":"LVfw","layer":[
{"data":{"name":"band"},"transform":[{"filter":"datum.p==16"}],"mark":{"type":"area","color":"#000","opacity":0.08},"encoding":{"x":{"field":"i","type":"quantitative","scale":{"domain":[0,500],"nice":false},"axis":{"values":[0,500],"title":"Iteration"}},"y":{"field":"lo","type":"quantitative","scale":{"domain":[0,150],"nice":false},"axis":{"values":[0,150],"format":".1f","title":["AmRef","[cm²]"],"titleX":-21.5}},"y2":{"field":"hi"}}},
{"data":{"name":"band"},"transform":[{"filter":"datum.p==16"}],"mark":{"type":"area","color":"#000","opacity":0.25},"encoding":{"x":{"field":"i","type":"quantitative","scale":{"domain":[0,500],"nice":false}},"y":{"field":"c","type":"quantitative","scale":{"domain":[0,150],"nice":false}},"y2":{"field":"d"}}},
{"data":{"name":"band"},"transform":[{"filter":"datum.p==16"}],"mark":{"type":"area","color":"#000","opacity":0.65},"encoding":{"x":{"field":"i","type":"quantitative","scale":{"domain":[0,500],"nice":false}},"y":{"field":"a","type":"quantitative","scale":{"domain":[0,150],"nice":false}},"y2":{"field":"b"}}},
{"data":{"name":"vio"},"transform":[{"filter":"datum.p==16"}],"mark":{"type":"area","orient":"horizontal","fill":"#8cbf8c","fillOpacity":1,"stroke":"#2d7a2d","strokeWidth":1.6},"encoding":{"x":{"field":"xv","type":"quantitative","scale":{"domain":[0,500],"nice":false}},"x2":{"datum":500},"y":{"field":"v","type":"quantitative","scale":{"domain":[0,150],"nice":false}}}}
]},
{"width":130,"height":102,"title":"IVS","layer":[
{"data":{"name":"band"},"transform":[{"filter":"datum.p==17"}],"mark":{"type":"area","color":"#000","opacity":0.08},"encoding":{"x":{"field":"i","type":"quantitative","scale":{"domain":[0,500],"nice":false},"axis":{"values":[0,500],"title":"Iteration"}},"y":{"field":"lo","type":"quantitative","scale":{"domain":[0,150],"nice":false},"axis":{"values":[0,150],"format":".1f","title":["AmRef","[cm²]"],"titleX":-21.5}},"y2":{"field":"hi"}}},
{"data":{"name":"band"},"transform":[{"filter":"datum.p==17"}],"mark":{"type":"area","color":"#000","opacity":0.25},"encoding":{"x":{"field":"i","type":"quantitative","scale":{"domain":[0,500],"nice":false}},"y":{"field":"c","type":"quantitative","scale":{"domain":[0,150],"nice":false}},"y2":{"field":"d"}}},
{"data":{"name":"band"},"transform":[{"filter":"datum.p==17"}],"mark":{"type":"area","color":"#000","opacity":0.7},"encoding":{"x":{"field":"i","type":"quantitative","scale":{"domain":[0,500],"nice":false}},"y":{"field":"a","type":"quantitative","scale":{"domain":[0,150],"nice":false}},"y2":{"field":"b"}}},
{"data":{"name":"vio"},"transform":[{"filter":"datum.p==17"}],"mark":{"type":"area","orient":"horizontal","fill":"#eec06f","fillOpacity":1,"stroke":"#d4920f","strokeWidth":1.6},"encoding":{"x":{"field":"xv","type":"quantitative","scale":{"domain":[0,500],"nice":false}},"x2":{"datum":500},"y":{"field":"v","type":"quantitative","scale":{"domain":[0,150],"nice":false}}}}
]},
{"width":130,"height":102,"title":"RV","layer":[
{"data":{"name":"band"},"transform":[{"filter":"datum.p==18"}],"mark":{"type":"area","color":"#000","opacity":0.08},"encoding":{"x":{"field":"i","type":"quantitative","scale":{"domain":[0,500],"nice":false},"axis":{"values":[0,500],"title":"Iteration"}},"y":{"field":"lo","type":"quantitative","scale":{"domain":[0,150],"nice":false},"axis":{"values":[0,150],"format":".1f","title":["AmRef","[cm²]"],"titleX":-21.5}},"y2":{"field":"hi"}}},
{"data":{"name":"band"},"transform":[{"filter":"datum.p==18"}],"mark":{"type":"area","color":"#000","opacity":0.25},"encoding":{"x":{"field":"i","type":"quantitative","scale":{"domain":[0,500],"nice":false}},"y":{"field":"c","type":"quantitative","scale":{"domain":[0,150],"nice":false}},"y2":{"field":"d"}}},
{"data":{"name":"band"},"transform":[{"filter":"datum.p==18"}],"mark":{"type":"area","color":"#000","opacity":0.7},"encoding":{"x":{"field":"i","type":"quantitative","scale":{"domain":[0,500],"nice":false}},"y":{"field":"a","type":"quantitative","scale":{"domain":[0,150],"nice":false}},"y2":{"field":"b"}}},
{"data":{"name":"vio"},"transform":[{"filter":"datum.p==18"}],"mark":{"type":"area","orient":"horizontal","fill":"#c4e5ae","fillOpacity":1,"stroke":"#72bf45","strokeWidth":1.6},"encoding":{"x":{"field":"xv","type":"quantitative","scale":{"domain":[0,500],"nice":false}},"x2":{"datum":500},"y":{"field":"v","type":"quantitative","scale":{"domain":[0,150],"nice":false}}}}
]},
{"width":130,"height":102,"title":"Global","layer":[
{"data":{"name":"band"},"transform":[{"filter":"datum.p==19"}],"mark":{"type":"area","color":"#000","opacity":0.08},"encoding":{"x":{"field":"i","type":"quantitative","scale":{"domain":[0,500],"nice":false},"axis":{"values":[0,500],"title":"Iteration"}},"y":{"field":"lo","type":"quantitative","scale":{"domain":[0,1.5],"nice":false},"axis":{"values":[0,1.5],"format":".1f","title":["RSD","[-]"],"titleX":-21.5}},"y2":{"field":"hi"}}},
{"data":{"name":"band"},"transform":[{"filter":"datum.p==19"}],"mark":{"type":"area","color":"#000","opacity":0.25},"encoding":{"x":{"field":"i","type":"quantitative","scale":{"domain":[0,500],"nice":false}},"y":{"field":"c","type":"quantitative","scale":{"domain":[0,1.5],"nice":false}},"y2":{"field":"d"}}},
{"data":{"name":"band"},"transform":[{"filter":"datum.p==19"}],"mark":{"type":"area","color":"#000","opacity":0.7},"encoding":{"x":{"field":"i","type":"quantitative","scale":{"domain":[0,500],"nice":false}},"y":{"field":"a","type":"quantitative","scale":{"domain":[0,1.5],"nice":false}},"y2":{"field":"b"}}},
{"data":{"name":"vio"},"transform":[{"filter":"datum.p==19"}],"mark":{"type":"area","orient":"horizontal","fill":"#8a8a8a","fillOpacity":1,"stroke":"#111111","strokeWidth":1.6},"encoding":{"x":{"field":"xv","type":"quantitative","scale":{"domain":[0,500],"nice":false}},"x2":{"datum":500},"y":{"field":"v","type":"quantitative","scale":{"domain":[0,1.5],"nice":false}}}}
]},
{"width":130,"height":102,"title":"Global","layer":[
{"data":{"name":"band"},"transform":[{"filter":"datum.p==20"}],"mark":{"type":"area","color":"#000","opacity":0.08},"encoding":{"x":{"field":"i","type":"quantitative","scale":{"domain":[0,500],"nice":false},"axis":{"values":[0,500],"title":"Iteration"}},"y":{"field":"lo","type":"quantitative","scale":{"domain":[0,15],"nice":false},"axis":{"values":[0,15],"format":".1f","title":["CO","[L/min]"],"titleX":-21.5}},"y2":{"field":"hi"}}},
{"data":{"name":"band"},"transform":[{"filter":"datum.p==20"}],"mark":{"type":"area","color":"#000","opacity":0.25},"encoding":{"x":{"field":"i","type":"quantitative","scale":{"domain":[0,500],"nice":false}},"y":{"field":"c","type":"quantitative","scale":{"domain":[0,15],"nice":false}},"y2":{"field":"d"}}},
{"data":{"name":"band"},"transform":[{"filter":"datum.p==20"}],"mark":{"type":"area","color":"#000","opacity":0.7},"encoding":{"x":{"field":"i","type":"quantitative","scale":{"domain":[0,500],"nice":false}},"y":{"field":"a","type":"quantitative","scale":{"domain":[0,15],"nice":false}},"y2":{"field":"b"}}},
{"data":{"name":"vio"},"transform":[{"filter":"datum.p==20"}],"mark":{"type":"area","orient":"horizontal","fill":"#8a8a8a","fillOpacity":1,"stroke":"#111111","strokeWidth":1.6},"encoding":{"x":{"field":"xv","type":"quantitative","scale":{"domain":[0,500],"nice":false}},"x2":{"datum":500},"y":{"field":"v","type":"quantitative","scale":{"domain":[0,15],"nice":false}}}}
]}
]
}
],
"config": {
"font": "DejaVu Sans",
"view": {"stroke": null},
"axis": {"grid": false, "domainColor": "#000", "tickColor": "#000", "labelColor": "#000", "titleColor": "#000", "domainWidth": 1.3, "tickWidth": 1.3, "tickSize": 5, "labelFontSize": 17, "titleFontSize": 17, "titleFontWeight": "normal", "labelFlush": false, "labelOverlap": false, "labelFont": "DejaVu Sans", "titleFont": "DejaVu Sans", "titleLineHeight": 23},
"axisY": {"offset": 10, "labelPadding": 5, "titleX": -1, "titleBaseline": "bottom"},
"axisX": {"offset": 9, "labelPadding": 6, "titlePadding": -27},
"title": {"font": "DejaVu Sans", "fontSize": 19, "fontWeight": "normal", "color": "#000", "offset": -6, "baseline": "alphabetic", "dx": 20, "frame": "group"}
}
}
